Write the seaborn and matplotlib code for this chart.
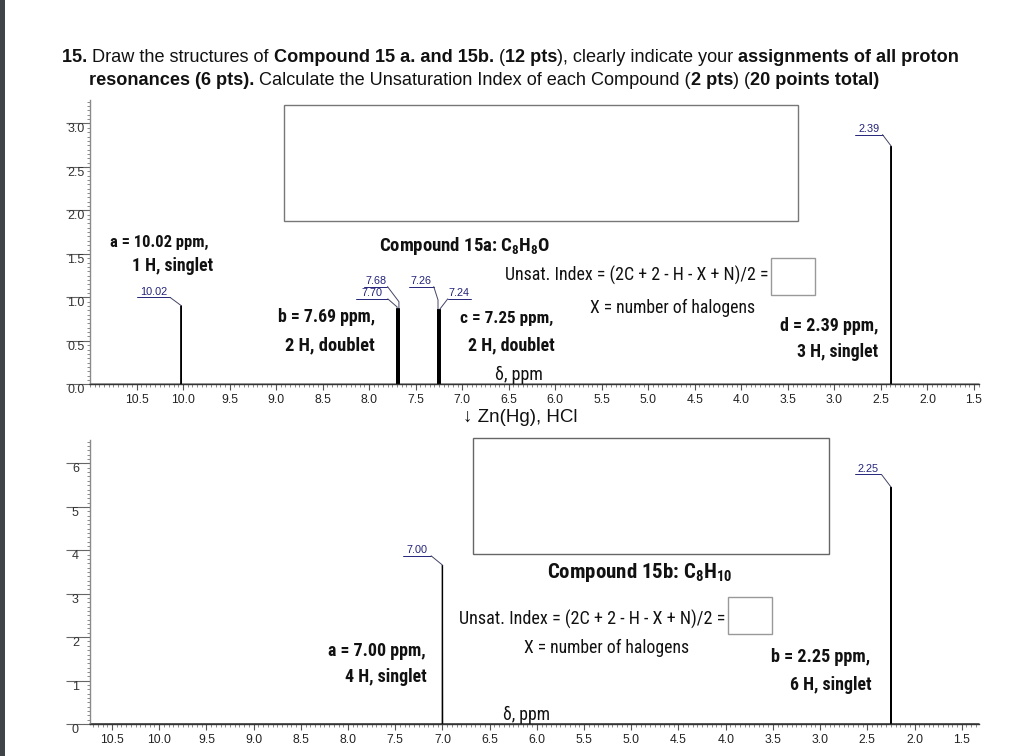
import numpy as np
import pandas as pd
import matplotlib
matplotlib.use("Agg")
import matplotlib.pyplot as plt
import seaborn as sns
from matplotlib import font_manager
from matplotlib.patches import Rectangle
from matplotlib.ticker import FixedLocator, MultipleLocator

# ---------------- data ----------------
top_peak_ppm = [10.02, 7.70, 7.68, 7.26, 7.24, 2.39]
top_peak_height = [0.905, 0.875, 0.875, 0.865, 0.865, 2.74]
top_peak_label = ["10.02", "7.70", "7.68", "7.26", "7.24", "2.39"]

bot_peak_ppm = [7.00, 2.25]
bot_peak_height = [3.66, 5.46]
bot_peak_label = ["7.00", "2.25"]

x_ticks = [10.5, 10.0, 9.5, 9.0, 8.5, 8.0, 7.5, 7.0, 6.5, 6.0, 5.5, 5.0, 4.5, 4.0, 3.5, 3.0, 2.5, 2.0, 1.5]
x_tick_labels = ["10.5", "10.0", "9.5", "9.0", "8.5", "8.0", "7.5", "7.0", "6.5", "6.0",
                 "5.5", "5.0", "4.5", "4.0", "3.5", "3.0", "2.5", "2.0", "1.5"]
top_yticks = [0.0, 0.5, 1.0, 1.5, 2.0, 2.5, 3.0]
top_ytick_labels = ["0.0", "0.5", "1.0", "1.5", "2.0", "2.5", "3.0"]
bot_yticks = [0, 1, 2, 3, 4, 5, 6]
bot_ytick_labels = ["0", "1", "2", "3", "4", "5", "6"]

# ---------------- layout (styling only) ----------------
W, H = 1024, 756
TOP_XLIM, TOP_YLIM = (11.0, 1.446), (0, 3.27)
BOT_XLIM, BOT_YLIM = (10.733, 1.317), (0, 6.54)
# label: text ppm, underline y, underline half width (ppm), leader side (+1 right end, -1 left end), elbow
top_label_layout = {
    "10.02": (10.32, 1.000, 0.180, 1, 0.0),
    "7.70": (7.97, 0.983, 0.170, 1, 0.015),
    "7.68": (7.93, 1.124, 0.127, 1, 0.075),
    "7.26": (7.44, 1.124, 0.134, 1, 0.105),
    "7.24": (7.03, 0.983, 0.125, -1, 0.0),
    "2.39": (2.63, 2.872, 0.147, 1, 0.0),
}
bot_label_layout = {
    "7.00": (7.27, 3.873, 0.150, 1, 0.0),
    "2.25": (2.49, 5.747, 0.140, 1, 0.0),
}
NAVY = "#23237a"

sns.set_style("white")
names = {f.name for f in font_manager.fontManager.ttflist}


def pick(cands):
    for c in cands:
        if c in names:
            return c
    return "DejaVu Sans"


SANS = pick(["Liberation Sans", "Arimo", "DejaVu Sans"])
NARROW = pick(["Liberation Sans Narrow", "Arial Narrow", "Roboto Condensed",
               "Open Sans Condensed", "Liberation Sans"])
plt.rcParams["font.family"] = [SANS, "DejaVu Sans"]
plt.rcParams["mathtext.fontset"] = "custom"
plt.rcParams["mathtext.rm"] = NARROW
plt.rcParams["mathtext.bf"] = NARROW + ":bold"
plt.rcParams["mathtext.it"] = NARROW + ":italic"

fig = plt.figure(figsize=(W / 100, H / 100), dpi=100)
fig.patch.set_facecolor("white")
renderer = fig.canvas.get_renderer()


def fx(x):
    return x / W


def fy(y):
    return 1 - y / H


def draw_spectrum(ax, ppm, height, xlim):
    order = np.argsort(ppm)[::-1]
    xs, ys = [xlim[0]], [0.0]
    for i in order:
        p, h = ppm[i], height[i]
        xs += [p + 0.002, p, p - 0.002]
        ys += [0.0, h, 0.0]
    xs.append(xlim[1])
    ys.append(0.0)
    df = pd.DataFrame({"ppm": xs, "intensity": ys})
    sns.lineplot(data=df, x="ppm", y="intensity", sort=False, estimator=None,
                 color="black", linewidth=0.9, ax=ax)
    ln = ax.lines[-1]
    ln.set_clip_on(False)
    ln.set_solid_joinstyle("bevel")


def style_axes(ax, xlim, ylim, yticks, yticklabels, yminor, ypad):
    ax.set_xlim(*xlim)
    ax.set_ylim(*ylim)
    ax.set_xlabel("")
    ax.set_ylabel("")
    ax.xaxis.set_major_locator(FixedLocator(x_ticks))
    ax.set_xticklabels(x_tick_labels)
    ax.xaxis.set_minor_locator(MultipleLocator(0.05))
    ax.yaxis.set_major_locator(FixedLocator(yticks))
    ax.set_yticklabels(yticklabels)
    ax.yaxis.set_minor_locator(MultipleLocator(yminor))
    for s in ["top", "right"]:
        ax.spines[s].set_visible(False)
    ax.spines["left"].set_color("#8a8a8a")
    ax.spines["left"].set_linewidth(1.0)
    ax.spines["bottom"].set_color("#333333")
    ax.spines["bottom"].set_linewidth(1.0)
    ax.tick_params(axis="x", which="both", bottom=True, top=False)
    ax.tick_params(axis="y", which="both", left=True, right=False)
    ax.tick_params(axis="x", which="major", direction="out", length=4, width=0.8,
                   color="#555555", pad=3, labelsize=8.7, labelcolor="#222222")
    ax.tick_params(axis="x", which="minor", direction="out", length=2.2, width=0.6,
                   color="#777777")
    ax.tick_params(axis="y", which="major", direction="out", length=17, width=0.8,
                   color="#666666", pad=ypad, labelsize=9, labelcolor="#333333")
    ax.tick_params(axis="y", which="minor", direction="out", length=2.2, width=0.6,
                   color="#777777")
    for lab in ax.get_yticklabels():
        lab.set_verticalalignment("top")
    ax.set_facecolor("none")


def draw_labels(ax, ppm, height, labels, layout):
    for p, h, lab in zip(ppm, height, labels):
        tx, uy, hw, side, elbow = layout[lab]
        ax.annotate(lab, (tx, uy), xytext=(0, 0.5), textcoords="offset points",
                    ha="center", va="bottom", fontsize=7.8, color=NAVY,
                    annotation_clip=False)
        ax.plot([tx + hw, tx - hw], [uy, uy], color=NAVY, lw=0.7, clip_on=False)
        ex = tx - hw if side > 0 else tx + hw
        ax.plot([ex, p, p], [uy, h + elbow, h], color="#444466", lw=0.7, clip_on=False)


# ---------------- axes ----------------
ax_top = fig.add_axes([fx(90), fy(384.3), (979 - 90) / W, (384.3 - 100) / H])
draw_spectrum(ax_top, top_peak_ppm, top_peak_height, TOP_XLIM)
style_axes(ax_top, TOP_XLIM, TOP_YLIM, top_yticks, top_ytick_labels, 0.05, -13)
draw_labels(ax_top, top_peak_ppm, top_peak_height, top_peak_label, top_label_layout)

ax_bot = fig.add_axes([fx(90), fy(724), (979 - 90) / W, (724 - 440) / H])
draw_spectrum(ax_bot, bot_peak_ppm, bot_peak_height, BOT_XLIM)
style_axes(ax_bot, BOT_XLIM, BOT_YLIM, bot_yticks, bot_ytick_labels, 0.1, -9)
draw_labels(ax_bot, bot_peak_ppm, bot_peak_height, bot_peak_label, bot_label_layout)


# ---------------- text helpers ----------------
def fit_text(s, x0, x1, yc, bold=True, family=None, color="#111111", base=12):
    fam = family if family is not None else [NARROW, SANS, "DejaVu Sans"]
    t = fig.text(fx((x0 + x1) / 2), fy(yc), s, ha="center", va="center",
                 fontsize=base, fontweight="bold" if bold else "normal",
                 family=fam, color=color)
    w = t.get_window_extent(renderer).width
    t.set_fontsize(base * (x1 - x0) / w)
    return t


def seg_advance(s, size, bold):
    kw = dict(fontsize=size, fontweight="bold" if bold else "normal", family=[SANS, "DejaVu Sans"])
    a = fig.text(0, 0, "|" + s + "|", **kw)
    b = fig.text(0, 0, "||", **kw)
    w = a.get_window_extent(renderer).width - b.get_window_extent(renderer).width
    a.remove()
    b.remove()
    return w


def rich_line(segs, x0, ybase, size):
    x = x0
    for s, bold in segs:
        fig.text(fx(x), fy(ybase), s, ha="left", va="baseline", fontsize=size,
                 fontweight="bold" if bold else "normal", family=[SANS, "DejaVu Sans"],
                 color="#111111")
        x += seg_advance(s, size, bold)
    return x - x0


line1 = [("15. ", True), ("Draw the structures of ", False),
         ("Compound 15 a. and 15b. ", True), ("(", False), ("12 pts", True),
         ("), clearly indicate your ", False), ("assignments of all proton", True)]
line2 = [("resonances (6 pts). ", True),
         ("Calculate the Unsaturation Index of each Compound (", False),
         ("2 pts", True), (") (", False), ("20 points total)", True)]

base = 12
w1 = sum(seg_advance(s, base, b) for s, b in line1)
tsize = base * (962 - 62) / w1
rich_line(line1, 62, 61.5, tsize)
rich_line(line2, 89, 85, tsize)

# ---------------- top panel annotations ----------------
fit_text("a = 10.02 ppm,", 110, 208, 242)
fit_text("1 H, singlet", 132, 213, 266)
fit_text(r"Compound 15a: C$_\mathbf{8}$H$_\mathbf{8}$O", 379, 550, 246)
fit_text("Unsat. Index = (2C + 2 - H - X + N)/2 =", 505, 768, 275, bold=False)
fit_text("X = number of halogens", 590, 755, 308, bold=False)
fit_text("b = 7.69 ppm,", 278, 375, 317)
fit_text("2 H, doublet", 285, 375, 345)
fit_text("c = 7.25 ppm,", 460, 553, 318)
fit_text("2 H, doublet", 468, 555, 345)
fit_text("d = 2.39 ppm,", 780, 878, 326)
fit_text("3 H, singlet", 797, 878, 352)
fit_text("\u03b4, ppm", 495, 543, 375, bold=False)
fit_text("\u2193 Zn(Hg), HCl", 463, 578, 418, bold=False, family=[SANS, "DejaVu Sans"])

# ---------------- bottom panel annotations ----------------
fit_text(r"Compound 15b: C$_\mathbf{8}$H$_\mathbf{10}$", 547, 732, 573)
fit_text("Unsat. Index = (2C + 2 - H - X + N)/2 =", 459, 725, 619, bold=False)
fit_text("X = number of halogens", 524, 689, 648, bold=False)
fit_text("a = 7.00 ppm,", 328, 425, 651)
fit_text("4 H, singlet", 345, 427, 677)
fit_text("b = 2.25 ppm,", 771, 870, 657)
fit_text("6 H, singlet", 790, 872, 685)
fit_text("\u03b4, ppm", 503, 550, 715, bold=False)

# ---------------- answer boxes ----------------
for (x0, y0, x1, y1, ec) in [(284, 105, 798, 221, "#777777"), (771, 258, 815, 295, "#999999"),
                             (473, 438, 829, 554, "#666666"), (728, 597, 772, 634, "#999999")]:
    fig.patches.append(Rectangle((fx(x0), fy(y1)), (x1 - x0) / W, (y1 - y0) / H,
                                 transform=fig.transFigure, fill=False, edgecolor=ec,
                                 linewidth=1.0))

# left dark strip of the page
fig.patches.append(Rectangle((0, 0), 5 / W, 1, transform=fig.transFigure,
                             facecolor="#3e4448", edgecolor="none"))

fig.savefig("out.png", dpi=100, facecolor="white")
